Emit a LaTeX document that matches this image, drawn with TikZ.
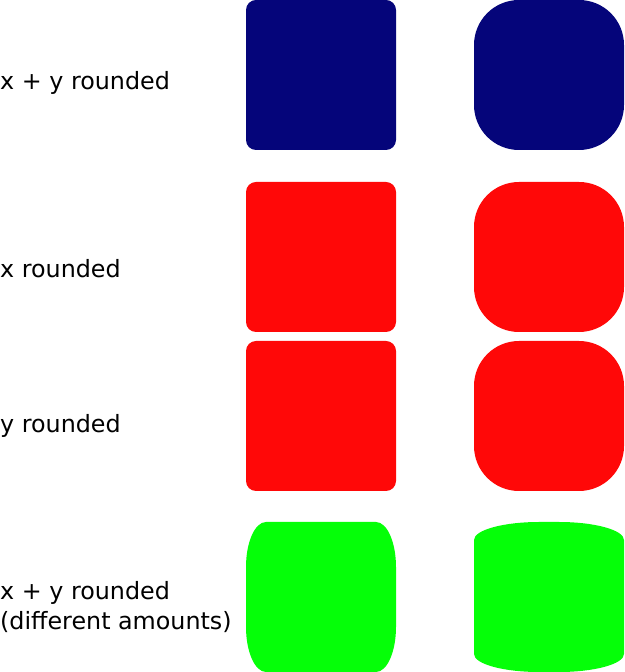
\documentclass[tikz,border=0pt]{standalone}
\usepackage{fontspec}
\setmainfont{DejaVu Sans}
\usepackage{tikz}
\usetikzlibrary{positioning}
\definecolor{boxblue}{RGB}{5,5,122}
\definecolor{boxred}{RGB}{255,8,8}
\definecolor{boxgreen}{RGB}{5,255,8}
\tikzset{
  lbl/.style={anchor=base west, inner sep=0pt, font=\fontsize{23.8}{30}\selectfont},
  blueshape/.style={fill=boxblue},
  redshape/.style={fill=boxred},
  greenshape/.style={fill=boxgreen}
}
% rounded box: x, y (lower left), w, h, rx, ry
\newcommand{\rbox}[7]{%
  \fill[#1] ({#2+#6},#3) -- ({#2+#4-#6},#3)
    arc[start angle=-90, end angle=0, x radius=#6, y radius=#7]
    -- ({#2+#4},{#3+#5-#7})
    arc[start angle=0, end angle=90, x radius=#6, y radius=#7]
    -- ({#2+#6},{#3+#5})
    arc[start angle=90, end angle=180, x radius=#6, y radius=#7]
    -- (#2,{#3+#7})
    arc[start angle=180, end angle=270, x radius=#6, y radius=#7]
    -- cycle;}
\begin{document}
\begin{tikzpicture}[x=1pt, y=1pt]
\useasboundingbox (0,0) rectangle (624,672);
% ---- row 1: x + y ----
\node[lbl] (labXY) at (0,582.7) {x + y rounded};
\rbox{blueshape}{246}{522}{150}{150}{10}{10}
\rbox{blueshape}{474}{522}{150}{150}{45}{45}
% ---- row 2: x only ----
\node[lbl] (labX) at (0,394.3) {x rounded};
\rbox{redshape}{246}{340}{150}{150}{10}{10}
\rbox{redshape}{474}{340}{150}{150}{45}{45}
% ---- row 3: y only ----
\node[lbl] (labY) at (0,239.3) {y rounded};
\rbox{redshape}{246}{181}{150}{150}{10}{10}
\rbox{redshape}{474}{181}{150}{150}{45}{45}
% ---- row 4: different amounts ----
\node[lbl] (labDiffA) at (0,72) {x + y rounded};
\node[lbl] (labDiffB) at (0,42) {(different amounts)};
\rbox{greenshape}{246}{0}{150}{150}{20}{45}
\rbox{greenshape}{474}{0}{150}{150}{65}{18}
\end{tikzpicture}
\end{document}
